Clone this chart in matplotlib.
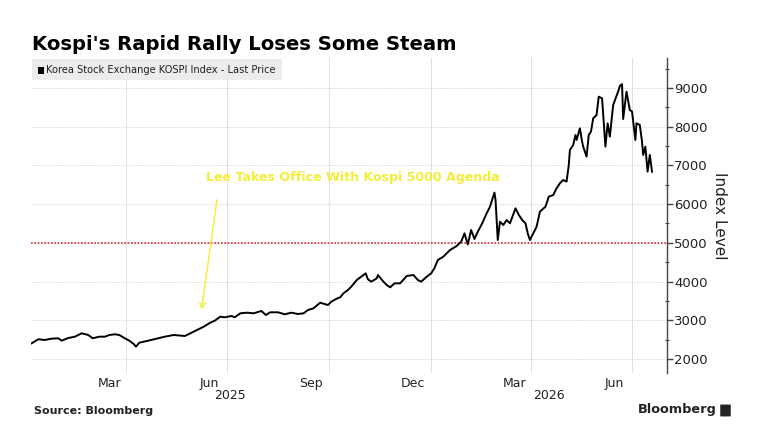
import matplotlib
matplotlib.use("Agg")
import matplotlib.pyplot as plt
from matplotlib.patches import Rectangle, FancyBboxPatch
from matplotlib.ticker import FixedLocator, NullFormatter
import pandas as pd

# ---------------- data ----------------
dates = [
    "2025-01-06", "2025-01-12", "2025-01-18", "2025-01-24", "2025-01-30",
    "2025-02-02", "2025-02-08", "2025-02-14", "2025-02-20", "2025-02-26",
    "2025-03-02", "2025-03-08", "2025-03-13", "2025-03-17", "2025-03-22",
    "2025-03-26", "2025-03-31", "2025-04-04", "2025-04-08", "2025-04-10",
    "2025-04-13", "2025-04-21", "2025-04-30", "2025-05-06", "2025-05-14",
    "2025-05-24", "2025-05-29", "2025-06-04", "2025-06-10", "2025-06-16",
    "2025-06-20", "2025-06-25", "2025-06-29", "2025-07-05", "2025-07-08",
    "2025-07-13", "2025-07-19", "2025-07-25", "2025-08-01", "2025-08-05",
    "2025-08-09", "2025-08-16", "2025-08-22", "2025-08-28", "2025-09-03",
    "2025-09-08", "2025-09-12", "2025-09-17", "2025-09-23", "2025-09-30",
    "2025-10-03", "2025-10-08", "2025-10-11", "2025-10-14", "2025-10-18",
    "2025-10-21", "2025-10-26", "2025-10-30", "2025-11-03", "2025-11-05",
    "2025-11-08", "2025-11-13", "2025-11-14", "2025-11-19", "2025-11-22",
    "2025-11-25", "2025-11-29", "2025-12-04", "2025-12-10", "2025-12-16",
    "2025-12-20", "2025-12-23", "2025-12-28", "2026-01-01", "2026-01-04",
    "2026-01-07", "2026-01-12", "2026-01-18", "2026-01-24", "2026-01-28",
    "2026-01-31", "2026-02-03", "2026-02-06", "2026-02-09", "2026-02-12",
    "2026-02-16", "2026-02-20", "2026-02-23", "2026-02-27", "2026-02-28",
    "2026-03-02", "2026-03-04", "2026-03-07", "2026-03-10", "2026-03-13",
    "2026-03-18", "2026-03-21", "2026-03-24", "2026-03-27", "2026-03-29",
    "2026-03-31", "2026-04-03", "2026-04-06", "2026-04-09", "2026-04-14",
    "2026-04-17", "2026-04-21", "2026-04-24", "2026-04-27", "2026-04-30",
    "2026-05-03", "2026-05-05", "2026-05-06", "2026-05-09", "2026-05-11",
    "2026-05-12", "2026-05-15", "2026-05-17", "2026-05-18", "2026-05-21",
    "2026-05-23", "2026-05-25", "2026-05-27", "2026-05-30", "2026-06-01",
    "2026-06-04", "2026-06-07", "2026-06-09", "2026-06-11", "2026-06-14",
    "2026-06-19", "2026-06-20", "2026-06-22", "2026-06-23", "2026-06-26",
    "2026-06-29", "2026-07-01", "2026-07-04", "2026-07-05", "2026-07-08",
    "2026-07-10", "2026-07-11", "2026-07-13", "2026-07-15", "2026-07-17",
    "2026-07-19",
]
kospi = [
    2405, 2509, 2491, 2525, 2535,
    2473, 2542, 2576, 2663, 2620,
    2535, 2576, 2576, 2620, 2638,
    2620, 2535, 2473, 2387, 2318,
    2421, 2473, 2535, 2576, 2620,
    2594, 2663, 2749, 2834, 2938,
    2989, 3093, 3077, 3111, 3077,
    3180, 3196, 3180, 3240, 3137,
    3206, 3206, 3154, 3196, 3162,
    3180, 3266, 3309, 3455, 3394,
    3480, 3560, 3594, 3697, 3782,
    3868, 4041, 4126, 4213, 4059,
    3997, 4083, 4170, 3997, 3911,
    3851, 3954, 3954, 4144, 4170,
    4041, 3997, 4126, 4213, 4350,
    4557, 4643, 4815, 4919, 5030,
    5246, 4960, 5332, 5100, 5289,
    5505, 5763, 5935, 6298, 6107,
    5074, 5547, 5461, 5590, 5505,
    5892, 5720, 5590, 5505, 5246,
    5074, 5246, 5418, 5806, 5935,
    6194, 6236, 6410, 6539, 6624,
    6581, 7011, 7399, 7528, 7786,
    7657, 7959, 7614, 7485, 7227,
    7786, 7872, 8217, 8300, 8777,
    8734, 7485, 8088, 7743, 8561,
    8950, 9052, 9100, 8200, 8906,
    8432, 8390, 7657, 8088, 8045,
    7614, 7270, 7485, 6839, 7270,
    6839,
]

y_ticks = [2000, 3000, 4000, 5000, 6000, 7000, 8000, 9000]
y_minor = [2500, 3500, 4500, 5500, 6500, 7500, 8500, 9500]
grid_dates = ["2025-04-01", "2025-07-01", "2025-10-01", "2026-01-01", "2026-04-01", "2026-07-01"]
month_label_dates = ["2025-03-17", "2025-06-15", "2025-09-15", "2025-12-16", "2026-03-17", "2026-06-15"]
month_labels = ["Mar", "Jun", "Sep", "Dec", "Mar", "Jun"]
year_labels = ["2025", "2026"]
year_label_dates = ["2025-07-04", "2026-04-17"]
target_level = 5000

x_start = pd.Timestamp("2025-01-05 10:00")
x_end = pd.Timestamp("2026-08-01 12:00")

title = "Kospi's Rapid Rally Loses Some Steam"
legend_label = "Korea Stock Exchange KOSPI Index - Last Price"
annotation = "Lee Takes Office With Kospi 5000 Agenda"
arrow_tail = ("2025-06-22", 6107)
arrow_tip = ("2025-06-08", 3266)

# ---------------- figure ----------------
W, H = 757, 441
fig = plt.figure(figsize=(W / 100, H / 100), dpi=100)
fig.patch.set_facecolor("white")
left, right, top, bottom = 31, 667, 58, 373
ax = fig.add_axes([left / W, 1 - bottom / H, (right - left) / W, (bottom - top) / H])

ax.plot(pd.to_datetime(dates), kospi, color="black", lw=1.4, zorder=3)
ax.axhline(target_level, color="#d8303c", lw=1.2, ls=(0, (1, 1)), zorder=2)

ax.set_xlim(x_start, x_end)
ax.set_ylim(1638, 9775)

for s in ["top", "left", "bottom"]:
    ax.spines[s].set_visible(False)
ax.spines["right"].set_color("#444444")
ax.spines["right"].set_linewidth(1.0)

ax.yaxis.tick_right()
ax.yaxis.set_label_position("right")
ax.set_yticks(y_ticks)
ax.yaxis.set_minor_locator(FixedLocator(y_minor))
ax.tick_params(axis="y", which="major", length=4, width=1, color="#444444",
               labelsize=9.5, labelcolor="#222222", pad=1)
ax.tick_params(axis="y", which="minor", length=3, width=0.8, color="#444444", direction="inout")
ax.set_ylabel("Index Level", rotation=-90, fontsize=11, labelpad=14, color="#222222")

# x axis: grid on quarter starts, labels at mid-month
ax.set_xticks(pd.to_datetime(grid_dates))
ax.xaxis.set_major_formatter(NullFormatter())
ax.set_xticks(pd.to_datetime(month_label_dates), minor=True)
ax.set_xticklabels(month_labels, minor=True)
ax.tick_params(axis="x", which="both", length=0, labelsize=9, labelcolor="#222222", pad=3)

ax.grid(axis="y", which="major", color="#cfcfcf", lw=0.7, ls=(0, (1, 1.5)))
ax.grid(axis="x", which="major", color="#e0e0e0", lw=0.7, ls="-")

xt = ax.get_xaxis_transform()
for lbl, d in zip(year_labels, year_label_dates):
    ax.text(pd.Timestamp(d), -0.07, lbl, transform=xt, ha="center", va="center",
            fontsize=9, color="#222222")

# annotation
ax.annotate("", xy=(pd.Timestamp(arrow_tip[0]), arrow_tip[1]),
            xytext=(pd.Timestamp(arrow_tail[0]), arrow_tail[1]),
            arrowprops=dict(arrowstyle="->", color="#f2ee3a", lw=1.2, ls=(0, (1, 1)),
                            shrinkA=0, shrinkB=0))
fig.text(353 / W, 1 - 177 / H, annotation, ha="center", va="center", fontsize=9.1,
         fontweight="bold", color="#f2ee3a")

# title
fig.text(32 / W, 1 - 50 / H, title, fontsize=14.1, fontweight="bold", color="black",
         va="baseline", ha="left")

# legend box
fig.patches.append(Rectangle((32 / W, 1 - 80 / H), 250 / W, 21 / H, transform=fig.transFigure,
                             facecolor="#ececec", edgecolor="none", zorder=5))
fig.patches.append(Rectangle((38 / W, 1 - 74 / H), 6 / W, 7 / H, transform=fig.transFigure,
                             facecolor="black", edgecolor="none", zorder=6))
fig.text(46 / W, 1 - 70 / H, legend_label, fontsize=7.1, color="#222222", va="center",
         ha="left", zorder=7)

# footer
fig.text(34 / W, 1 - 411 / H, "Source: Bloomberg", fontsize=8, fontweight="bold",
         color="#222222", va="center", ha="left")
fig.text(717 / W, 1 - 410 / H, "Bloomberg", fontsize=9.3, fontweight="bold",
         color="#222222", va="center", ha="right")
fig.patches.append(FancyBboxPatch((721 / W, 1 - 416 / H), 9 / W, 11 / H,
                                  boxstyle="round,pad=0.001", transform=fig.transFigure,
                                  facecolor="#222222", edgecolor="none"))

fig.savefig("out.png", dpi=100)
